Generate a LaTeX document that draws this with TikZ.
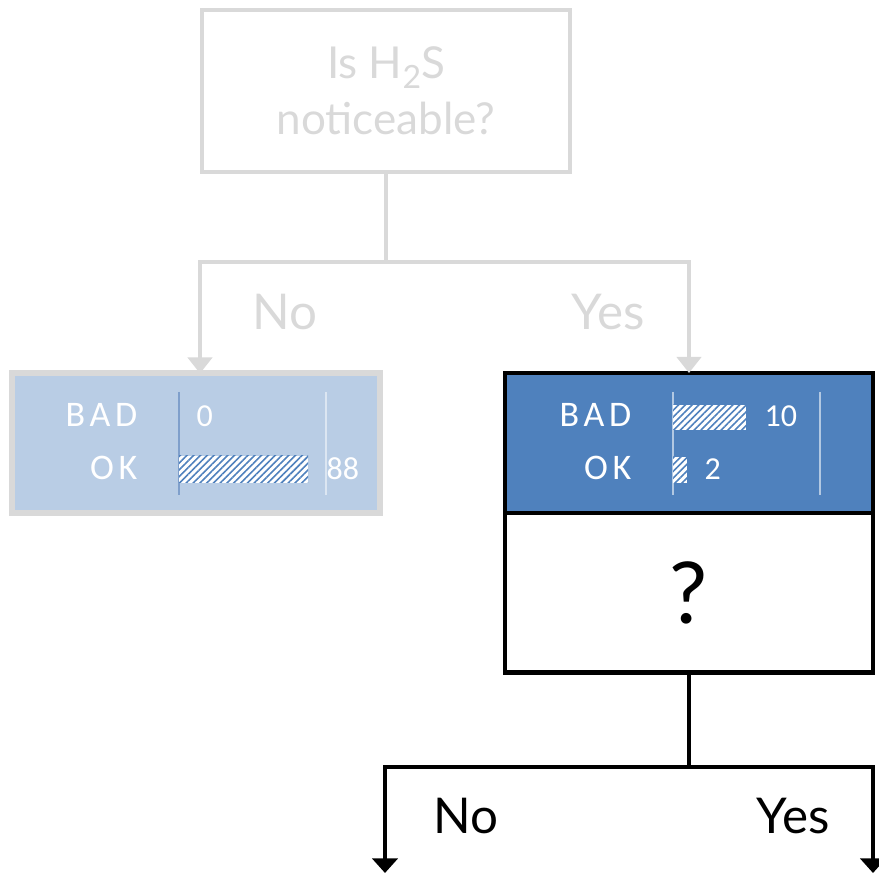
\documentclass[tikz,border=0pt]{standalone}
\usepackage{fontspec}
\setmainfont{Lato}
\newfontfamily\barfont{Carlito}
\newfontfamily\tagfont[LetterSpace=13]{Carlito}
\usetikzlibrary{positioning,arrows.meta,patterns.meta}
\definecolor{fadegrey}{HTML}{D9D9D9}
\definecolor{leafpale}{HTML}{B9CDE5}
\definecolor{leafblue}{HTML}{4F81BD}
\definecolor{axisdark}{HTML}{7F9FCB}
\definecolor{axislight}{HTML}{DCE6F2}
\newcommand{\subtwo}{\raisebox{-0.22em}{\fontsize{24}{24}\selectfont 2}}
\tikzset{
  qbox/.style={draw, line width=3pt, minimum width=276pt, minimum height=121pt,
    align=center, inner sep=0pt},
  leafbox/.style={line width=3.4pt, minimum width=276pt, minimum height=105pt,
    outer sep=0pt, inner sep=0pt},
  tag/.style={text=white, font=\tagfont\fontsize{27}{27}\selectfont, anchor=base east},
  count/.style={text=white, font=\barfont\fontsize{24}{24}\selectfont, anchor=base west},
  hatch/.style={fill=white, postaction={pattern={Lines[angle=45,distance=3.6pt,line width=1.2pt]},
    pattern color=leafblue}},
  fadeline/.style={draw=fadegrey, line width=3pt},
  boldline/.style={draw=black, line width=3.4pt},
  branch/.style={font=\fontsize{37}{37}\selectfont, anchor=base},
}
\begin{document}
\begin{tikzpicture}[x=0.75pt, y=-0.75pt]
  \useasboundingbox (0,0) rectangle (879,873);
  \node[qbox, draw=fadegrey, text=fadegrey, font=\fontsize{33}{42}\selectfont]
    (q1) at (386,91) {Is H\subtwo S\\noticeable?};
  \node[leafbox, draw=fadegrey, fill=leafpale, line width=4.5pt] (noLeaf) at (196,443.5) {};
  \node[leafbox, draw=black, fill=leafblue] (yesLeaf) at (689,443) {};
  \node[leafbox, draw=black, fill=white, minimum height=119.5pt,
    font=\fontsize{64}{64}\selectfont, below=0pt of yesLeaf] (q2) {?};
  % left leaf
  \draw[axisdark, line width=1pt] (179,392) -- (179,495);
  \draw[axislight, line width=1pt] (326,392) -- (326,495);
  \fill[hatch] (179,456) rectangle (308,483);
  \node[tag] (badA) at (142,427) {BAD};
  \node[tag] (okA) at (142,480) {OK};
  \node[count] (nbadA) at (192,427) {0};
  \node[count] (nokA) at (322,480) {88};
  % right leaf
  \draw[axislight!70!leafblue, line width=1pt] (673,392) -- (673,495);
  \draw[axislight!70!leafblue, line width=1pt] (820,392) -- (820,495);
  \fill[hatch] (673,405) rectangle (746,430);
  \fill[hatch] (673,457) rectangle (687,483);
  \node[tag] (badB) at (636,427) {BAD};
  \node[tag] (okB) at (636,480) {OK};
  \node[count] (nbadB) at (760,427) {10};
  \node[count] (nokB) at (700,480) {2};
  % connectors
  \coordinate (s1) at (386,262);
  \coordinate (s2) at (689,767);
  \coordinate (endNo) at (385,873);
  \coordinate (endYes) at (873,873);
  \begin{scope}[fadeline, -{Triangle[width=18pt,length=12pt]}]
    \draw[-] (q1.south) -- (s1);
    \draw (s1) -| ([xshift=3pt]noLeaf.north);
    \draw (s1) -| (yesLeaf.north);
  \end{scope}
  \begin{scope}[boldline, -{Triangle[width=19pt,length=11pt]}]
    \draw[-] (q2.south) -- (s2);
    \draw (s2) -| (endNo);
    \draw (s2) -| (endYes);
  \end{scope}
  \node[branch, text=fadegrey] (noA) at (285,330) {No};
  \node[branch, text=fadegrey] (yesA) at (608,330) {Yes};
  \node[branch] (noB) at (466,833) {No};
  \node[branch] (yesB) at (793,833) {Yes};
\end{tikzpicture}
\end{document}
